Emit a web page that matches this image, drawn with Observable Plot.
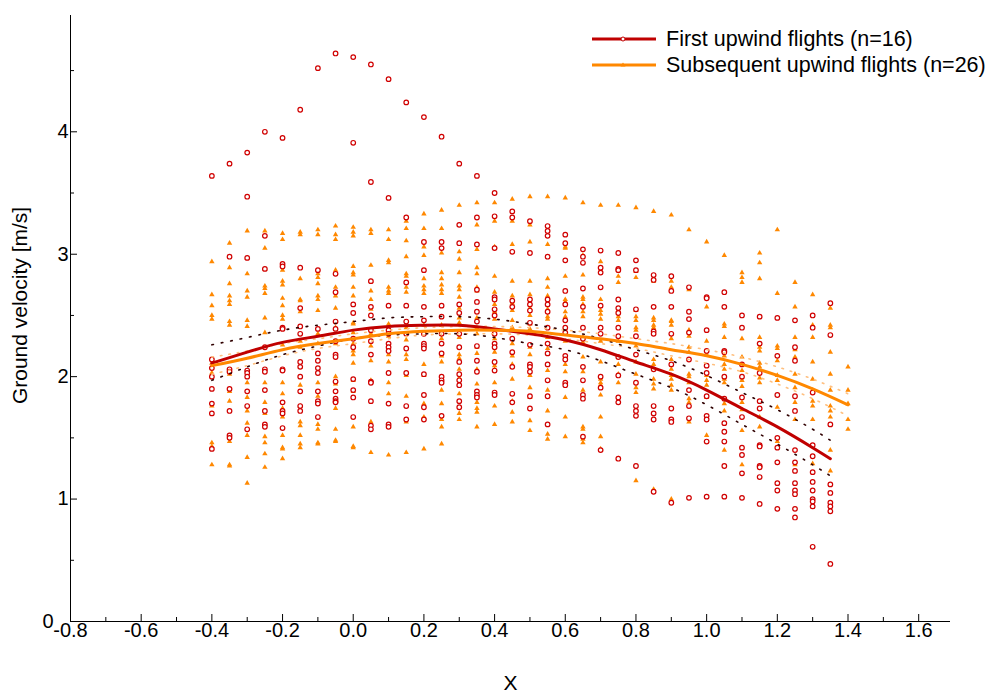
<!DOCTYPE html>
<html>
<head>
<meta charset="utf-8">
<script src="https://cdn.jsdelivr.net/npm/d3@7"></script>
<script src="https://cdn.jsdelivr.net/npm/@observablehq/plot@0.6"></script>
<style>
  html, body { margin: 0; padding: 0; background: #fff; }
  #wrap { position: relative; width: 988px; height: 693px; font-family: "Liberation Sans", Arial, sans-serif; }
  #legend { position: absolute; left: 592px; top: 26px; font-size: 21.5px; color: #000; }
  #legend .row { display: flex; align-items: center; height: 26px; }
  #legend svg { margin-right: 10px; }
</style>
</head>
<body>
<div id="wrap">
  <div id="chart"></div>
  <div id="legend"></div>
</div>
<script>
// ---- data ----
const xFirst = [-0.4,-0.35,-0.3,-0.25,-0.2,-0.15,-0.1,-0.05,0,0.05,0.1,0.15,0.2,0.25,0.3,0.35,0.4,0.45,0.5,0.55,0.6,0.65,0.7,0.75,0.8,0.85,0.9,0.95,1.0,1.05,1.1,1.15,1.2,1.25,1.3,1.35];
const firstVals = [
  [3.64,2.14,2.07,2.00,1.90,1.78,1.70,1.41],
  [3.74,2.98,2.06,2.04,1.90,1.72,1.52,1.50],
  [3.83,3.47,2.97,2.05,2.03,2.00,1.88,1.76,1.57],
  [4.00,3.15,2.88,2.24,2.06,2.04,1.89,1.72,1.61,1.59],
  [3.95,2.92,2.90,2.40,2.39,2.06,2.05,1.79,1.72,1.70,1.58],
  [4.18,2.89,2.56,2.41,2.35,2.12,2.08,2.00,1.88,1.76,1.72],
  [4.52,2.87,2.39,2.19,2.13,2.07,2.03,1.88,1.80,1.78,1.67],
  [4.64,2.84,2.69,2.45,2.39,2.29,2.18,2.16,1.96,1.88,1.82,1.80,1.79],
  [4.61,3.91,2.59,2.52,2.31,2.24,1.98,1.89,1.83,1.67],
  [4.55,3.59,2.78,2.57,2.50,2.38,2.29,2.18,1.96,1.95,1.80,1.60,1.57],
  [4.43,3.46,2.58,2.38,2.35,2.27,2.24,2.21,2.03,1.78,1.61,1.59],
  [4.24,3.30,2.77,2.58,2.45,2.35,2.23,2.03,1.76,1.65],
  [4.12,3.10,2.87,2.57,2.46,2.35,2.27,2.25,2.23,2.02,1.85,1.75,1.65],
  [3.96,3.10,3.05,2.58,2.49,2.35,2.27,2.19,2.00,1.97,1.95,1.68],
  [3.74,3.24,3.09,2.59,2.52,2.35,2.24,2.12,2.02,1.97,1.93,1.80,1.75],
  [3.64,3.30,3.08,2.71,2.61,2.53,2.45,2.25,2.13,2.04,1.88,1.85,1.83],
  [3.50,3.31,3.05,2.65,2.63,2.55,2.50,2.35,2.27,2.24,2.12,2.05,1.87,1.85],
  [3.35,3.30,3.02,2.62,2.57,2.31,2.20,2.08,1.86,1.79],
  [3.27,3.01,2.63,2.59,2.54,2.44,2.26,2.10,2.08,2.04,1.84,1.74],
  [3.23,3.19,3.15,2.98,2.63,2.59,2.53,2.40,2.27,2.19,2.10,1.97,1.84,1.61],
  [3.16,3.09,2.95,2.70,2.59,2.46,2.40,2.36,2.17,2.14,1.95,1.93],
  [3.04,2.98,2.93,2.72,2.57,2.40,2.31,2.08,1.97,1.85,1.82,1.51],
  [3.03,2.89,2.85,2.73,2.58,2.40,2.35,2.00,1.91,1.40],
  [3.01,2.88,2.87,2.63,2.56,2.52,2.40,2.33,2.16,2.01,1.83,1.79,1.33],
  [2.95,2.87,2.55,2.33,2.18,1.95,1.76,1.72,1.68,1.27],
  [2.83,2.79,2.57,2.37,2.35,2.06,1.76,1.70,1.65,1.06],
  [2.82,2.70,2.57,2.35,2.10,1.74,1.65,1.63,0.97],
  [2.73,2.53,2.47,2.36,2.14,1.89,1.76,1.66,1.01],
  [2.65,2.64,2.38,2.21,2.09,2.03,1.84,1.68,1.65,1.47,1.02],
  [2.69,2.57,2.21,2.20,2.00,1.82,1.62,1.55,1.47,1.27,1.02],
  [2.50,2.40,2.10,2.00,1.83,1.67,1.42,1.36,1.21,1.01],
  [2.49,2.27,2.03,1.80,1.74,1.44,1.43,1.27,1.26,1.18,0.96],
  [2.48,2.17,1.85,1.50,1.42,1.30,1.13,1.07,0.92],
  [2.46,2.24,2.13,1.84,1.72,1.40,1.30,1.23,1.13,1.07,1.04,0.92,0.85],
  [2.50,2.40,1.87,1.44,1.35,1.22,1.14,1.07,1.00,0.98,0.94,0.61],
  [2.60,2.34,1.61,1.12,1.05,0.97,0.94,0.90,0.47]
];
const xSubs = [-0.4,-0.35,-0.3,-0.25,-0.2,-0.15,-0.1,-0.05,0,0.05,0.1,0.15,0.2,0.25,0.3,0.35,0.4,0.45,0.5,0.55,0.6,0.65,0.7,0.75,0.8,0.85,0.9,0.95,1.0,1.05,1.1,1.15,1.2,1.25,1.3,1.35,1.4];
const subsVals = [
  [2.94,2.67,2.58,2.50,2.47,2.11,2.03,1.76,1.46,1.43,1.28],
  [3.09,2.89,2.76,2.66,2.62,2.59,2.45,2.42,2.02,1.88,1.80,1.47,1.28,1.27],
  [3.19,2.97,2.84,2.70,2.65,2.46,2.41,1.95,1.83,1.72,1.62,1.52,1.34,1.13],
  [3.19,3.05,2.88,2.74,2.72,2.68,2.48,2.36,1.95,1.79,1.70,1.51,1.46,1.37,1.26],
  [3.17,3.12,2.87,2.78,2.75,2.64,2.58,2.50,2.47,2.26,1.95,1.86,1.74,1.67,1.52,1.42,1.41,1.33],
  [3.18,3.16,2.80,2.63,2.62,2.53,2.29,2.24,2.08,1.93,1.76,1.63,1.60,1.52,1.45,1.42],
  [3.20,3.16,2.84,2.81,2.76,2.66,2.63,2.54,2.35,2.27,1.95,1.84,1.61,1.57,1.46,1.45],
  [3.23,3.16,3.12,2.87,2.73,2.66,2.56,2.40,2.27,2.00,1.94,1.74,1.57,1.48,1.47],
  [3.22,3.18,3.15,2.90,2.85,2.83,2.73,2.66,2.44,2.43,2.36,2.27,2.21,2.18,2.11,1.97,1.88,1.59,1.43,1.42],
  [3.20,3.17,2.91,2.78,2.70,2.63,2.55,2.35,2.25,2.13,1.97,1.63,1.38],
  [3.20,3.12,2.95,2.93,2.73,2.70,2.68,2.43,2.33,2.18,2.12,1.95,1.86,1.59,1.36],
  [3.27,3.21,3.11,2.98,2.84,2.82,2.73,2.69,2.40,2.30,2.18,2.14,2.01,1.84,1.63,1.38],
  [3.33,3.21,3.06,2.99,2.80,2.74,2.71,2.68,2.42,2.10,2.01,1.78,1.67,1.41],
  [3.36,3.21,3.01,2.85,2.80,2.75,2.71,2.68,2.42,2.31,2.17,2.12,1.89,1.78,1.65,1.59,1.45],
  [3.40,3.24,3.02,2.96,2.85,2.74,2.71,2.65,2.56,2.48,2.44,2.32,2.18,2.15,2.06,1.99,1.86,1.70,1.65],
  [3.42,3.24,3.04,2.89,2.84,2.73,2.70,2.48,2.46,2.40,2.35,2.24,2.19,2.06,1.94,1.79,1.74,1.71,1.59],
  [3.42,3.27,3.06,2.82,2.69,2.59,2.53,2.47,2.37,2.31,2.20,2.09,2.06,1.95,1.76,1.61],
  [3.45,3.27,3.08,2.78,2.66,2.60,2.54,2.46,2.40,2.27,2.17,2.10,1.98,1.80,1.71,1.63],
  [3.47,3.24,3.10,2.78,2.67,2.56,2.50,2.43,2.39,2.24,2.18,2.01,1.91,1.83,1.64,1.56],
  [3.47,3.08,2.80,2.73,2.66,2.55,2.49,2.47,2.32,2.23,2.05,1.89,1.72,1.53,1.49],
  [3.46,3.06,3.05,2.82,2.63,2.61,2.53,2.49,2.29,2.10,2.04,1.83,1.67,1.51],
  [3.42,2.99,2.83,2.65,2.63,2.59,2.53,2.49,2.32,2.28,2.16,2.04,1.89,1.59,1.57,1.49,1.46],
  [3.40,2.94,2.87,2.63,2.54,2.51,2.47,2.29,2.12,1.98,1.95,1.93,1.85,1.67,1.51,1.41,1.40],
  [3.40,2.87,2.82,2.77,2.54,2.49,2.46,2.29,2.10,2.02,1.95,1.33],
  [3.38,2.86,2.81,2.54,2.49,2.46,2.40,2.38,2.25,2.12,2.02,1.91,1.87,1.15],
  [3.35,2.80,2.78,2.48,2.46,2.42,2.40,2.14,2.10,1.98,1.94,1.90,1.08],
  [3.32,2.78,2.73,2.46,2.45,2.42,2.31,2.14,2.06,2.01,1.98,1.93,1.89,1.00],
  [3.20,2.71,2.38,2.37,2.33,2.24,2.20,2.02,2.00,1.95,1.82,1.79,1.63],
  [3.10,2.57,2.29,2.18,2.01,1.97,1.93,1.83,1.52],
  [2.99,2.43,2.41,2.32,2.17,2.10,2.06,1.98,1.95,1.78,1.72,1.40],
  [2.85,2.81,2.77,2.31,2.16,2.05,1.97,1.92,1.79,1.73,1.56,1.28],
  [3.01,2.93,2.80,2.32,2.24,2.21,2.11,2.08,1.99,1.95,1.67,1.59],
  [3.20,2.68,2.25,2.23,2.13,2.01,1.97,1.75,1.47],
  [2.77,2.57,2.32,2.22,2.16,2.02,1.91,1.79,1.65,1.28],
  [2.67,2.42,2.32,2.12,1.98,1.89,1.80,1.76,1.65,1.29],
  [2.56,2.42,2.40,2.20,2.02,1.89,1.76,1.72,1.67,1.40,1.23],
  [2.08,1.89,1.78,1.65,1.57]
];
// fitted curves and confidence bands
const fitXFirst = [-0.4,-0.3,-0.2,-0.1,0,0.1,0.2,0.3,0.4,0.5,0.6,0.7,0.8,0.9,1.0,1.1,1.2,1.3,1.35];
const fitFirst  = [2.11,2.20,2.28,2.33,2.38,2.41,2.42,2.42,2.39,2.35,2.30,2.22,2.12,2.02,1.89,1.74,1.59,1.42,1.33];
const bandFirstHi = [2.26,2.32,2.38,2.42,2.45,2.48,2.49,2.49,2.47,2.43,2.38,2.31,2.22,2.13,2.01,1.87,1.73,1.57,1.48];
const bandFirstLo = [1.97,2.08,2.18,2.25,2.31,2.34,2.35,2.35,2.32,2.27,2.22,2.13,2.02,1.91,1.77,1.61,1.45,1.28,1.19];
const fitXSubs = [-0.4,-0.3,-0.2,-0.1,0,0.1,0.2,0.3,0.4,0.5,0.6,0.7,0.8,0.9,1.0,1.1,1.2,1.3,1.4];
const fitSubs  = [2.09,2.15,2.22,2.27,2.31,2.35,2.37,2.38,2.38,2.37,2.34,2.31,2.27,2.22,2.17,2.10,2.01,1.90,1.77];
const bandSubsHi = [2.16,2.21,2.27,2.31,2.35,2.38,2.40,2.41,2.41,2.40,2.38,2.35,2.31,2.27,2.22,2.16,2.08,1.98,1.86];
const bandSubsLo = [2.02,2.09,2.17,2.23,2.27,2.31,2.34,2.35,2.35,2.34,2.31,2.27,2.23,2.17,2.11,2.04,1.94,1.82,1.68];
// ticks
const xTicks = [-0.8,-0.6,-0.4,-0.2,0,0.2,0.4,0.6,0.8,1.0,1.2,1.4,1.6];
const xMinor = [-0.7,-0.5,-0.3,-0.1,0.1,0.3,0.5,0.7,0.9,1.1,1.3,1.5];
const yTicks = [1,2,3,4];
const yZero = [0];
const yMinor = [0.5,1.5,2.5,3.5,4.5];
const seriesNames = ["First upwind flights (n=16)", "Subsequent upwind flights (n=26)"];
const colFirst = "#c00000", colSubs = "#ff8800";

// ---- build tables ----
const first = xFirst.flatMap((x, i) => firstVals[i].map(y => ({x, y})));
const subs = xSubs.flatMap((x, i) => subsVals[i].map(y => ({x, y})));
const toLine = (xs, ys) => xs.map((x, i) => ({x, y: ys[i]}));

const font = "Liberation Sans, Arial, sans-serif";
const chart = Plot.plot({
  width: 988, height: 693,
  marginLeft: 70, marginRight: 38, marginTop: 15, marginBottom: 72,
  style: {fontFamily: font, fontSize: "20px", background: "#fff", color: "#000"},
  x: {domain: [-0.8, 1.69], axis: null},
  y: {domain: [0, 4.95], axis: null},
  marks: [
    Plot.dot(subs, {x: "x", y: "y", symbol: "triangle", r: 2.0, fill: colSubs, stroke: "none"}),
    Plot.dot(first, {x: "x", y: "y", r: 2.3, fill: "white", stroke: "#d00000", strokeWidth: 1.2}),
    Plot.line(toLine(fitXSubs, bandSubsHi), {x: "x", y: "y", stroke: "#ffc080", strokeWidth: 1.6, strokeDasharray: "1.6,7", curve: "natural"}),
    Plot.line(toLine(fitXSubs, bandSubsLo), {x: "x", y: "y", stroke: "#ffc080", strokeWidth: 1.6, strokeDasharray: "1.6,7", curve: "natural"}),
    Plot.line(toLine(fitXFirst, bandFirstHi), {x: "x", y: "y", stroke: "#300000", strokeWidth: 1.6, strokeDasharray: "1.6,8", curve: "natural"}),
    Plot.line(toLine(fitXFirst, bandFirstLo), {x: "x", y: "y", stroke: "#300000", strokeWidth: 1.6, strokeDasharray: "1.6,8", curve: "natural"}),
    Plot.line(toLine(fitXFirst, fitFirst), {x: "x", y: "y", stroke: colFirst, strokeWidth: 3, curve: "natural"}),
    Plot.line(toLine(fitXSubs, fitSubs), {x: "x", y: "y", stroke: colSubs, strokeWidth: 3, curve: "natural"}),
    // axes
    Plot.ruleX([-0.8], {stroke: "#000", strokeWidth: 1}),
    Plot.ruleY([0], {stroke: "#000", strokeWidth: 1}),
    Plot.axisX(xTicks, {anchor: "bottom", tickSize: -7, tickFormat: () => "", label: null}),
    Plot.axisX(xMinor, {anchor: "bottom", tickSize: -4, tickFormat: () => "", label: null}),
    Plot.axisX(xTicks, {anchor: "bottom", tickSize: 0, tickPadding: 1, tickFormat: d => d.toFixed(1), fontSize: 20, label: null}),
    Plot.axisY(yTicks, {anchor: "left", tickSize: -7, tickFormat: () => "", label: null}),
    Plot.axisY(yMinor, {anchor: "left", tickSize: -4, tickFormat: () => "", label: null}),
    Plot.axisY(yTicks, {anchor: "left", tickSize: 0, tickPadding: 2, tickFormat: d => String(d), fontSize: 20, label: null}),
    Plot.axisY(yZero, {anchor: "left", tickSize: 0, tickPadding: 17, tickFormat: d => String(d), fontSize: 20, label: null}),
    Plot.text(["X"], {frameAnchor: "bottom", dy: 62, lineAnchor: "middle", text: d => d, fontSize: 21}),
    Plot.text(["Ground velocity [m/s]"], {frameAnchor: "left", dx: -50, dy: -13, rotate: -90, textAnchor: "middle", lineAnchor: "middle", text: d => d, fontSize: 21})
  ]
});
document.getElementById("chart").appendChild(chart);

// ---- legend ----
const legend = document.getElementById("legend");
[[seriesNames[0], colFirst, "circle"], [seriesNames[1], colSubs, "triangle"]].forEach(([name, col, sym]) => {
  const row = document.createElement("div");
  row.className = "row";
  const marker = sym === "circle"
    ? `<circle cx="31" cy="5" r="2" fill="white" stroke="${col}" stroke-width="1"/>`
    : `<path d="M31,2.5 L33.5,6.5 L28.5,6.5 Z" fill="${col}"/>`;
  row.innerHTML = `<svg width="64" height="10"><line x1="0" x2="64" y1="5" y2="5" stroke="${col}" stroke-width="3"/>${marker}</svg><span>${name}</span>`;
  legend.appendChild(row);
});
</script>
</body>
</html>
